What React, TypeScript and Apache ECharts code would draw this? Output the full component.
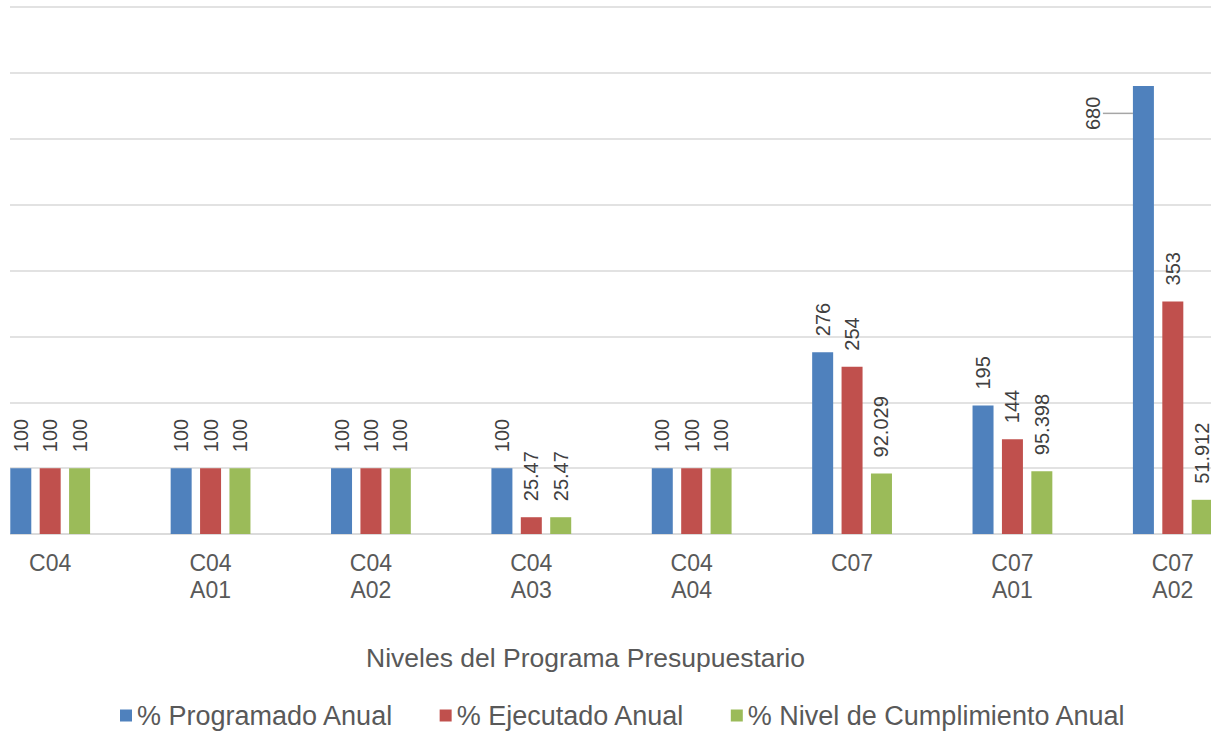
import React, { useEffect, useRef } from "react";
import * as echarts from "echarts";

const categories = ["C04", "C04\nA01", "C04\nA02", "C04\nA03", "C04\nA04", "C07", "C07\nA01", "C07\nA02"];
const programado = [100, 100, 100, 100, 100, 276, 195, 680];
const ejecutado = [100, 100, 100, 25.47, 100, 254, 144, 353];
const cumplimiento = [100, 100, 100, 25.47, 100, 92.029, 95.398, 51.912];
const seriesNames = ["% Programado Anual", "% Ejecutado Anual", "% Nivel de Cumplimiento Anual"];
const colors = ["#4F81BD", "#C0504D", "#9BBB59"];
const axisTitle = "Niveles del Programa Presupuestario";

const FONT = "'Liberation Sans', Arial, sans-serif";
const MOVED_LABEL_INDEX = 7;

export default function App() {
  const ref = useRef<HTMLDivElement>(null);
  useEffect(() => {
    if (!ref.current) return;
    const chart = echarts.init(ref.current, undefined, { renderer: "svg" });
    const mk = (name: string, values: number[], color: string, idx: number) => ({
      name,
      type: "bar",
      data: values.map((v, i) =>
        idx === 0 && i === MOVED_LABEL_INDEX ? { value: v, labelLine: { show: true } } : v
      ),
      barWidth: 21,
      barGap: "40%",
      itemStyle: { color },
      label: {
        show: true,
        position: "top",
        distance: 16,
        rotate: 90,
        align: "left",
        verticalAlign: "middle",
        color: "#404040",
        fontSize: 20,
        fontFamily: FONT,
      },
      labelLine: { show: false, lineStyle: { color: "#A6A6A6", width: 1.5 } },
      labelLayout:
        idx === 0
          ? (p: any) => {
              if (p.dataIndex !== MOVED_LABEL_INDEX) return {};
              return {
                x: p.rect.x - 40,
                y: p.rect.y + 44,
                align: "left",
                verticalAlign: "middle",
              };
            }
          : undefined,
    });
    chart.setOption({
      animation: false,
      backgroundColor: "#ffffff",
      textStyle: { fontFamily: FONT },
      grid: { left: 0, right: 0, top: 7, bottom: 200, containLabel: false },
      legend: {
        bottom: 0,
        left: 145,
        itemWidth: 12,
        itemHeight: 12,
        itemGap: 46,
        itemStyle: { borderWidth: 0 },
        icon: "rect",
        textStyle: { fontSize: 27, color: "#595959", fontFamily: FONT },
        data: seriesNames,
      },
      xAxis: {
        type: "category",
        data: categories,
        name: axisTitle,
        nameLocation: "middle",
        nameGap: 110,
        nameTextStyle: { fontSize: 26.5, color: "#595959", fontFamily: FONT, padding: [0, 52, 0, 0] },
        axisTick: { show: false },
        axisLine: { lineStyle: { color: "#D9D9D9", width: 1.5 } },
        axisLabel: { fontSize: 23, color: "#595959", lineHeight: 27, margin: 15, fontFamily: FONT, interval: 0 },
      },
      yAxis: {
        type: "value",
        min: 0,
        max: 800,
        interval: 100,
        axisLabel: { show: false },
        axisLine: { show: false },
        axisTick: { show: false },
        splitLine: { lineStyle: { color: "#D9D9D9", width: 1.5 } },
      },
      graphic: [
        { type: "rect", left: 0, top: 0, shape: { width: 40, height: 545 }, style: { fill: "#ffffff" }, z: 100 },
      ],
      series: [
        mk(seriesNames[0], programado, colors[0], 0),
        mk(seriesNames[1], ejecutado, colors[1], 1),
        mk(seriesNames[2], cumplimiento, colors[2], 2),
      ],
    });
    return () => chart.dispose();
  }, []);
  return <div ref={ref} style={{ position: "fixed", left: -30, top: 0, width: 1283, height: 734 }} />;
}
